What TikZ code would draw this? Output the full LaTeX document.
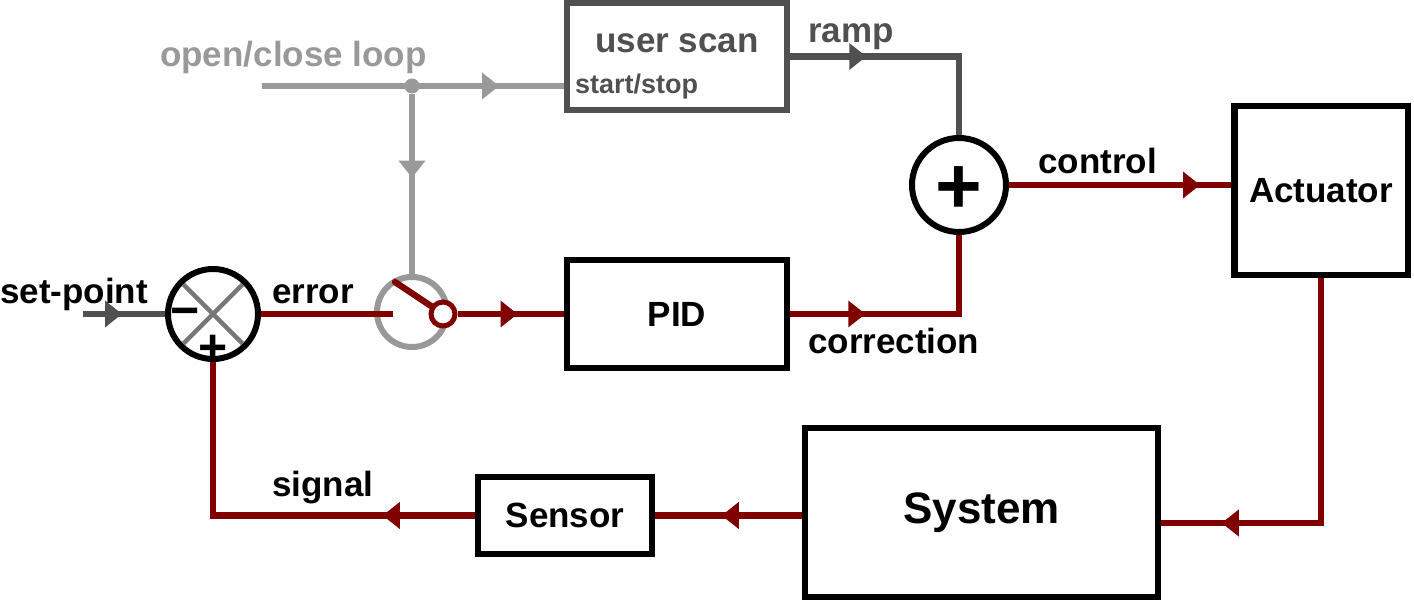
\documentclass[tikz,border=0pt]{standalone}
\usepackage{fontspec}
\setmainfont{Liberation Sans}
\usetikzlibrary{arrows.meta,decorations.markings,calc}
\definecolor{dred}{HTML}{800000}
\definecolor{lgray}{HTML}{999999}
\definecolor{dgray}{HTML}{505050}
\definecolor{mgray}{HTML}{777777}
\begin{document}
\begin{tikzpicture}[x=1pt,y=-1pt,
  lab/.style={font=\bfseries\fontsize{35}{40}\selectfont, inner sep=0pt, anchor=base west},
  blk/.style={draw=black, line width=6.5pt, rectangle, inner sep=0pt, font=\bfseries\fontsize{35}{40}\selectfont},
  wire/.style={line width=6.3pt, dred},
  gwire/.style={line width=6.3pt, lgray},
  dwire/.style={line width=6.3pt, dgray},
  marr/.style 2 args={postaction={decorate}, decoration={markings, mark=at position #1 with {\fill[#2] (0pt,0pt) -- (-17pt,13.5pt) -- (-17pt,-13.5pt) -- cycle;}}},
  sgn/.style={font=\bfseries\fontsize{50}{50}\selectfont, inner sep=0pt},
]
\useasboundingbox (0,0) rectangle (1414,601);

% blocks
\node[blk, minimum width=220pt, minimum height=108pt] (pid) at (677,314) {PID};
\node[blk, draw=dgray, minimum width=220pt, minimum height=107pt] (us) at (677,56.5) {};
\node[blk, minimum width=173.5pt, minimum height=169pt] (act) at (1321,190.5) {Actuator};
\node[blk, minimum width=353pt, minimum height=169pt, font=\bfseries\fontsize{44}{50}\selectfont] (sys) at (981.5,512.5) {System};
\node[blk, minimum width=174pt, minimum height=77pt] (sen) at (565,515.5) {Sensor};

% junctions
\node[circle, draw, line width=6pt, minimum size=90pt, inner sep=0pt] (s1) at (213,314) {};
\node[circle, draw, line width=6pt, minimum size=94pt, inner sep=0pt] (s2) at (959,185) {};
\node[circle, draw=lgray, line width=6pt, minimum size=70pt, inner sep=0pt] (sw) at (412,312) {};
\node[circle, fill=lgray, minimum size=15pt, inner sep=0pt] (jn) at (412,86) {};

\draw[mgray, line width=4.5pt, shorten <=6pt, shorten >=6pt] (s1.45) -- (s1.225);
\draw[mgray, line width=4.5pt, shorten <=6pt, shorten >=6pt] (s1.135) -- (s1.-45);
\node[sgn] (mn) at (185,318) {\char"2212};
\node[sgn] (pl) at (213,350) {+};
\node[font=\bfseries\fontsize{80}{80}\selectfont, inner sep=0pt] (pl2) at (959,190) {+};

% gray control wires
\coordinate (oc) at (262,86);
\draw[gwire, marr={237pt}{lgray}] (oc) -- (jn.center) -- (jn -| us.west);
\draw[gwire, marr={84pt}{lgray}] (jn) -- (sw.north);
\draw[dwire, marr={76pt}{dgray}] (us.east) -| (s2.north);

% set point
\coordinate (sp) at (83,314);
\draw[dwire, marr={39pt}{dgray}] (sp) -- (s1.west);

% switch
\node[circle, draw=dred, fill=white, line width=5pt, minimum size=24pt, inner sep=0pt] (swc) at (443,314) {};
\coordinate (swl) at (393,314);
\coordinate (bl) at (395,282);
\draw[wire] (s1.east) -- (swl);
\draw[wire, line cap=round] (bl) -- (swc);
\draw[wire, marr={60pt}{dred}] (swc.east) -- (pid.west);

% main loop
\draw[wire, marr={75pt}{dred}] (pid.east) -| (s2.south);
\draw[wire, marr={191pt}{dred}] (s2.east) -- (s2.east -| act.west);
\draw[wire, marr={344pt}{dred}] (act.south) |- ([yshift=-10.5pt]sys.east);
\draw[wire, marr={80pt}{dred}] (sys.west |- sen.east) -- (sen.east);
\draw[wire, marr={92pt}{dred}] (sen.west) -| (s1.south);

% labels
\node[lab] (tsp) at (0,304) {set-point};
\node[lab] (ter) at (272,304) {error};
\node[lab, text=lgray] (tocl) at (160,67) {open/close loop};
\node[lab, text=dgray] (tramp) at (808,43) {ramp};
\node[lab] (tctl) at (1038,174) {control};
\node[lab] (tsig) at (272,496) {signal};
\node[lab] (tcor) at (808,354) {correction};
\node[lab, text=dgray, font=\bfseries\fontsize{27}{30}\selectfont] (tss) at (575,94) {start/stop};
\node[lab, text=dgray, anchor=base] (tus) at (677,53) {user scan};
\end{tikzpicture}
\end{document}
